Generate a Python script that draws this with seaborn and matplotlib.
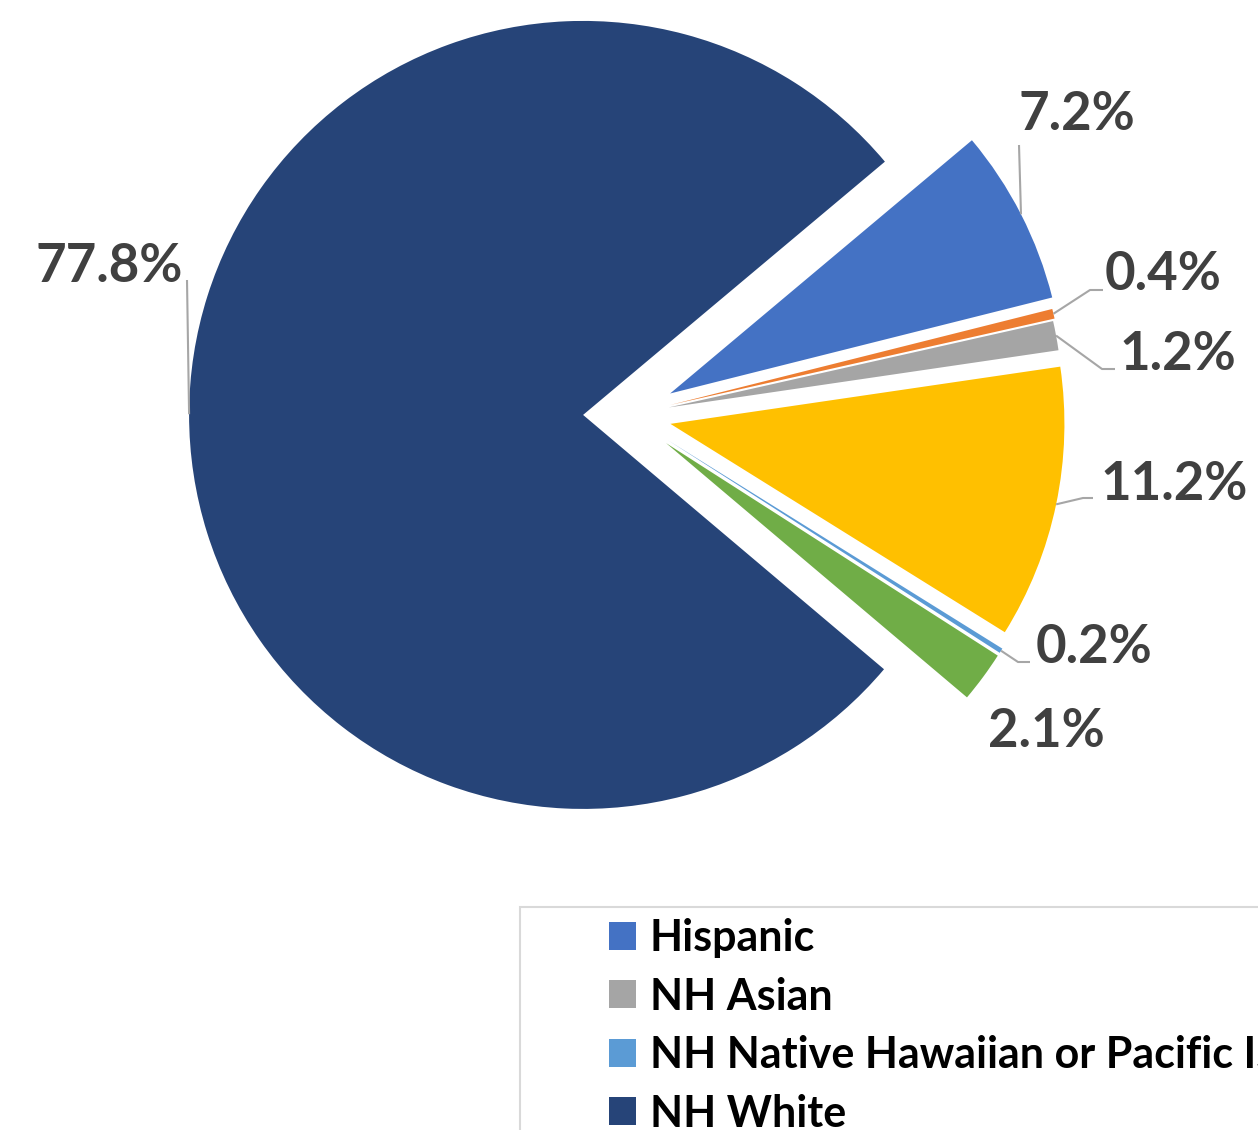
import matplotlib
matplotlib.use("Agg")
import matplotlib.pyplot as plt
from matplotlib.patches import Patch, Rectangle
import numpy as np
import seaborn as sns

# Population share by race / ethnicity
groups = [
    "Hispanic",
    "NH American Indian or Alaska Native",
    "NH Asian",
    "NH Black",
    "NH Native Hawaiian or Pacific Islander",
    "NH Two or More Races",
    "NH White",
]
shares = [7.2, 0.4, 1.2, 11.2, 0.2, 2.1, 77.8]
colors = ["#4472C4", "#ED7D31", "#A5A5A5", "#FFC000", "#5B9BD5", "#70AD47", "#264478"]

# how far each slice is pulled out from the pie centre (fraction of radius)
explode = [0.12, 0.11, 0.105, 0.11, 0.12, 0.12, 0.114]

sns.set_theme(style="white")
plt.rcParams["font.family"] = ["Lato", "DejaVu Sans"]

W, H, DPI = 1258, 1130, 100
fig = plt.figure(figsize=(W / DPI, H / DPI), dpi=DPI)
ax = fig.add_axes([0, 0, 1, 1])

# canvas origin (px) of the data coordinates and pie radius in px
CX, CY, R = 583, 415, 394


def to_data(x, y):
    return ((x - CX) / R, (CY - y) / R)


# pie centre sits right of the origin; the large slice is pulled back left onto it
pie_center = to_data(628, 415)

wedges, _ = ax.pie(
    shares,
    colors=colors,
    startangle=40,
    counterclock=False,
    explode=explode,
    radius=1,
    center=pie_center,
    wedgeprops=dict(linewidth=0),
)

ax.set_xlim(-CX / R, (W - CX) / R)
ax.set_ylim(-(H - CY) / R, CY / R)
ax.set_aspect("equal")
ax.axis("off")

# value labels: baseline anchor (px) and the leader-line path from the slice arc
label_pos = [(1077, 130), (1163, 290), (1178, 370), (1174, 500), (1094, 663), (1046, 747), (109, 282)]
leader_path = [
    [(1019, 145)],
    [(1090, 290), (1103, 290)],
    [(1102, 369), (1115, 369)],
    [(1083, 498), (1093, 498)],
    [(1018, 662), (1030, 662)],
    None,
    [(187, 280)],
]

for w, val, pos, path in zip(wedges, shares, label_pos, leader_path):
    tx, ty = to_data(*pos)
    ax.text(tx, ty, f"{val:.1f}%", ha="center", va="baseline",
            fontsize=38, fontweight="bold", color="#404040")
    if path is None:
        continue
    mid = np.deg2rad((w.theta1 + w.theta2) / 2)
    cx, cy = w.center
    sx, sy = cx + w.r * np.cos(mid), cy + w.r * np.sin(mid)
    pts = [(sx, sy)] + [to_data(*p) for p in path]
    xs, ys = zip(*pts)
    ax.plot(xs, ys, color="#A6A6A6", lw=1.5, solid_capstyle="butt", zorder=1)

# legend laid out in two columns (filled column by column)
order = [0, 2, 4, 6, 1, 3, 5]
handles = [Patch(facecolor=colors[i], edgecolor="none") for i in order]
labels = [groups[i] for i in order]
fig.legend(
    handles, labels,
    ncol=2, loc="upper left",
    bbox_to_anchor=(609 / W, 1 - 918 / H),
    bbox_transform=fig.transFigure,
    frameon=False, borderpad=0, borderaxespad=0,
    handlelength=0.62, handleheight=0.62, handletextpad=0.33,
    labelspacing=0.43, columnspacing=1.0,
    prop=dict(family="Lato", weight="bold", size=31),
    labelcolor="black",
)
fig.add_artist(Rectangle((520 / W, -0.2), 1.0, 0.2 + 1 - 907 / H,
                         transform=fig.transFigure, fill=False,
                         edgecolor="#D9D9D9", lw=1.5))

fig.savefig("out.png", dpi=DPI)
